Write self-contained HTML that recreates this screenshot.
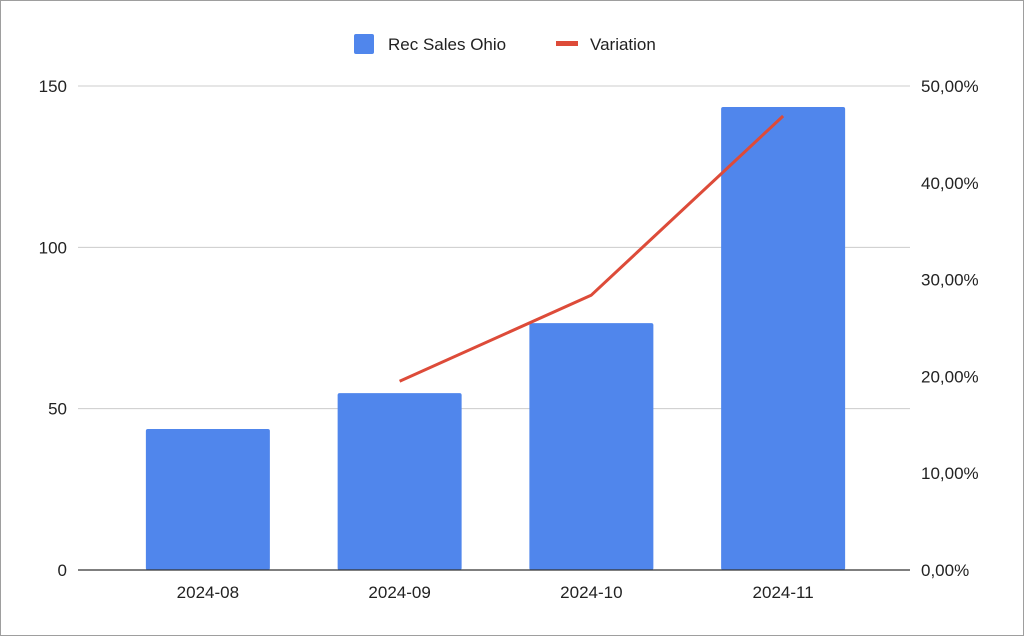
<!DOCTYPE html>
<html><head><meta charset="utf-8"><style>
html,body{margin:0;padding:0;background:#fff;}
svg{display:block;font-family:"Liberation Sans",Arial,sans-serif;}
</style></head><body>
<svg id="chart" width="1024" height="636" viewBox="0 0 1024 636">
<rect x="0.5" y="0.5" width="1023" height="635" fill="#fff" stroke="#9e9e9e"/>
<g id="legend">
<rect x="354" y="34" width="20" height="20" rx="2" fill="#5086ec"/>
<text x="388" y="50" font-size="17" fill="#222">Rec Sales Ohio</text>
<rect x="556" y="41" width="22" height="5" fill="#dd4b39"/>
<text x="590" y="50" font-size="17" fill="#222">Variation</text>
</g>
<g id="grid"></g><g id="bars"></g><g id="line"></g><g id="axes"></g>
</svg>
<script>
const categories=["2024-08","2024-09","2024-10","2024-11"];
const salesValues=[43.7,54.8,76.5,143.5];
const variationValues=[null,19.5,28.4,46.9];
const leftTicks=[0,50,100,150];
const rightTicks=[0,10,20,30,40,50];
const rightTickLabels=["0,00%","10,00%","20,00%","30,00%","40,00%","50,00%"];

const NS="http://www.w3.org/2000/svg";
const plotL=78,plotR=910,y0=570,yTop=86,bandL=112,bandR=879;
const yL=v=>y0-(v/150)*(y0-yTop);
const yR=v=>y0-(v/50)*(y0-yTop);
const bw=(bandR-bandL)/categories.length;
const xC=i=>bandL+bw*(i+0.5);
function mk(t,a,p){const e=document.createElementNS(NS,t);for(const k in a)e.setAttribute(k,a[k]);p.appendChild(e);return e;}
const grid=document.getElementById('grid'),bars=document.getElementById('bars'),line=document.getElementById('line'),axes=document.getElementById('axes');
leftTicks.forEach((v,i)=>{
  if(v>0){const g=mk('line',{x1:plotL,x2:plotR,y1:yL(v),y2:yL(v),stroke:'#cccccc','stroke-width':1},grid);
  
  }
  const t=mk('text',{x:67,y:yL(v)+6,'font-size':17,fill:'#222','text-anchor':'end'},axes);
  t.textContent=v;
  
  
});
rightTicks.forEach((v,i)=>{
  const t=mk('text',{x:921,y:yR(v)+6,'font-size':17,fill:'#222'},axes);
  t.textContent=rightTickLabels[i];
  
  
});
categories.forEach((c,i)=>{
  const h=y0-yL(salesValues[i]);
  const r=mk('rect',{x:xC(i)-62,y:yL(salesValues[i]),width:124,height:h,fill:'#5086ec',rx:2},bars);
  
  
  const t=mk('text',{x:xC(i),y:598,'font-size':17,fill:'#222','text-anchor':'middle'},axes);
  t.textContent=c;
  
  
});
const ax=mk('line',{x1:plotL,x2:plotR,y1:y0,y2:y0,stroke:'#333','stroke-width':1.2},axes);


const pts=[];variationValues.forEach((v,i)=>{if(v!==null)pts.push(xC(i)+','+yR(v));});
const pl=mk('polyline',{points:pts.join(' '),fill:'none',stroke:'#dd4b39','stroke-width':3,'stroke-linejoin':'round'},line);


</script>
</body></html>
